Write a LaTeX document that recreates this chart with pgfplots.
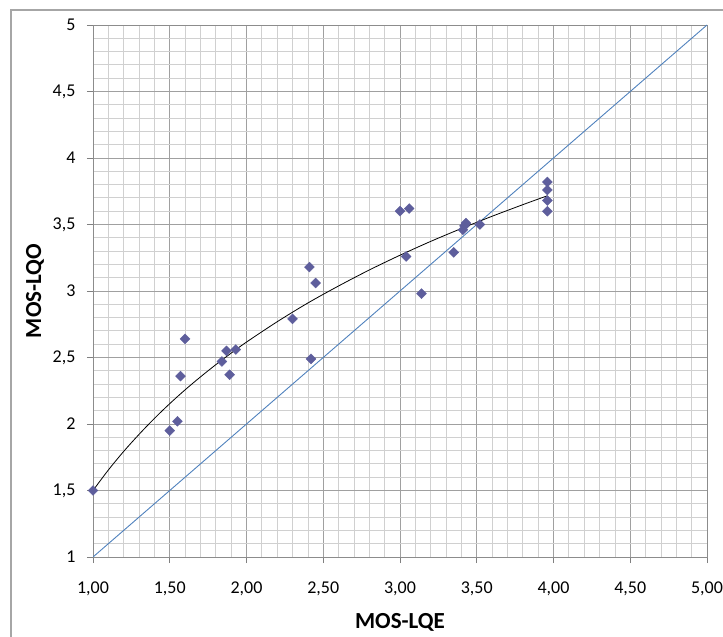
\documentclass[border=0pt]{standalone}
\usepackage{fontspec}
\setmainfont{Carlito}
\usepackage{pgfplots}
\pgfplotsset{compat=1.18}
\definecolor{mk}{HTML}{5E5E9C}
\definecolor{diag}{HTML}{4F81BD}
\definecolor{gmaj}{HTML}{A0A0A0}
\definecolor{gmin}{HTML}{D0D0D0}
\definecolor{framec}{HTML}{A6A6A6}
\begin{document}
\begin{tikzpicture}
\useasboundingbox (0,0) rectangle (723bp,637bp);
\draw[framec, line width=1.5bp] (11bp,-2bp) -- (11bp,627bp) -- (725bp,627bp);
\begin{axis}[
 at={(93bp,80bp)}, anchor=south west, scale only axis, width=614bp, height=532bp,
 xmin=1,xmax=5,ymin=1,ymax=5,
 xtick={1,1.5,2,2.5,3,3.5,4,4.5,5}, ytick={1,1.5,2,2.5,3,3.5,4,4.5,5},
 minor x tick num=4, minor y tick num=4,
 grid=both, major grid style={gmaj, line width=0.8bp}, minor grid style={gmin, line width=0.8bp},
 axis line style={gray!90, line width=0.8bp},
 tick align=outside, major tick length=6bp, minor tick length=0pt,
 tick style={gray, line width=0.8bp},
 xtick pos=left, ytick pos=left,
 tick label style={font=\fontsize{18bp}{21bp}\selectfont, /pgf/number format/assume math mode=true},
 x tick label style={yshift=-15bp, /pgf/number format/use comma, /pgf/number format/fixed, /pgf/number format/fixed zerofill, /pgf/number format/precision=2},
 y tick label style={xshift=-8bp, /pgf/number format/use comma, /pgf/number format/fixed, /pgf/number format/precision=1},
 xlabel={MOS-LQE}, ylabel={MOS-LQO},
 label style={font=\bfseries\fontsize{23bp}{26bp}\selectfont},
 xlabel style={at={(axis description cs:0.5,-0.1222)}, anchor=center},
 ylabel style={at={(axis description cs:-0.0945,0.5)}, anchor=center},
]
\addplot[diag, line width=0.9bp] coordinates {(1,1) (5,5)};
\addplot[black, line width=0.8bp, smooth] coordinates {
(1.0,1.500) (1.1,1.654) (1.2,1.794) (1.3,1.922) (1.4,2.042) (1.5,2.153)
(1.6,2.257) (1.7,2.354) (1.8,2.446) (1.9,2.533) (2.0,2.616) (2.2,2.769)
(2.4,2.910) (2.6,3.038) (2.8,3.158) (3.0,3.269) (3.2,3.373) (3.4,3.470)
(3.6,3.562) (3.8,3.649) (3.96,3.716)};
\addplot[only marks, mark=square*, mark size=3.5bp, mark options={rotate=45, fill=mk, draw=mk}] coordinates {
(1.00,1.50) (1.50,1.95) (1.55,2.02) (1.57,2.36) (1.60,2.64)
(1.84,2.47) (1.87,2.55) (1.93,2.56) (1.89,2.37)
(2.30,2.79) (2.41,3.18) (2.45,3.06) (2.42,2.49)
(3.00,3.60) (3.06,3.62) (3.04,3.26) (3.14,2.98)
(3.35,3.29) (3.41,3.46) (3.42,3.49) (3.43,3.51) (3.52,3.50)
(3.96,3.82) (3.96,3.76) (3.96,3.68) (3.96,3.60)};
\end{axis}
\end{tikzpicture}
\end{document}
